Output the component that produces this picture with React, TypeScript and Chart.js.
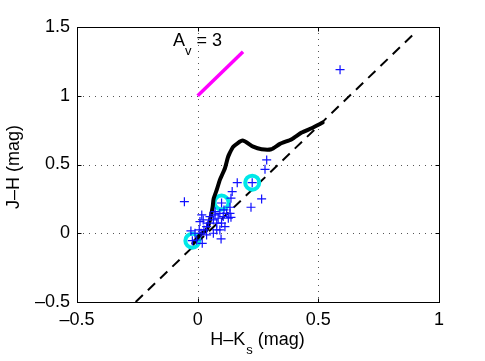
import React, { useEffect, useRef } from "react";
import { Chart, registerables } from "chart.js";

Chart.register(...registerables);

const xTicks = [-0.5, 0, 0.5, 1];
const yTicks = [-0.5, 0, 0.5, 1, 1.5];
const gridX = [0, 0.5];
const gridY = [0, 0.5, 1];

// reference (dashed) line
const dashX = [-0.257, 0.903];
const dashY = [-0.5, 1.462];

// reddening vector Av = 3
const avX = [0, 0.188];
const avY = [1.0, 1.32];

// intrinsic locus (thick black)
const curveX = [-0.018, 0.01, 0.037, 0.051, 0.062, 0.066, 0.079, 0.092, 0.113, 0.125, 0.132, 0.148, 0.186, 0.23, 0.265, 0.305, 0.341, 0.39, 0.431, 0.472, 0.518];
const curveY = [-0.073, -0.012, 0.024, 0.097, 0.19, 0.25, 0.315, 0.388, 0.473, 0.55, 0.58, 0.63, 0.674, 0.63, 0.611, 0.611, 0.65, 0.684, 0.732, 0.764, 0.805];

// cyan circles
const circX = [-0.022, 0.099, 0.226];
const circY = [-0.054, 0.223, 0.368];

// blue plus sources
const plusX = [-0.055, 0.59, 0.286, 0.279, 0.164, 0.226, 0.143, 0.138, 0.265, 0.221, 0.099, 0.134, 0.097, 0.019, -0.022, -0.028, 0.138,
  0.017, 0.0095, 0.023, 0.0066, 0.014, 0.026, 0.037, 0.044, 0.051, 0.065, 0.072, 0.079, 0.085, 0.092, 0.099, 0.106, 0.113, 0.12, 0.127, 0.092, 0.079, 0.065, 0.037, -0.011, -0.004, 0.072, 0.109, 0.134];
const plusY = [0.23, 1.19, 0.533, 0.465, 0.368, 0.368, 0.303, 0.255, 0.25, 0.189, 0.22, 0.189, -0.041, -0.073, -0.054, 0.017, 0.116,
  0.133, 0.085, 0.097, 0.024, 0.0, 0.024, 0.048, 0.073, 0.121, 0.097, 0.133, 0.073, 0.109, 0.145, 0.073, 0.121, 0.048, 0.145, 0.109, 0.024, 0.024, 0.0, -0.012, 0.0, -0.049, 0.157, 0.17, 0.145];

const toPts = (xs: number[], ys: number[]) => xs.map((x, i) => ({ x, y: ys[i] }));
const fmt = (v: number) => (v < 0 ? "\u2013" + String(-v) : String(v));
const FONT = "Liberation Sans, Arial, Helvetica, sans-serif";

const framePlugin = {
  id: "matlabFrame",
  beforeDatasetsDraw(chart: any) {
    const { ctx, chartArea: a, scales } = chart;
    const xs = scales.x, ys = scales.y;
    ctx.save();
    ctx.strokeStyle = "#555";
    ctx.lineWidth = 1;
    ctx.setLineDash([1, 5]);
    gridX.forEach((v) => {
      const px = Math.round(xs.getPixelForValue(v)) + 0.5;
      ctx.beginPath(); ctx.moveTo(px, a.top); ctx.lineTo(px, a.bottom); ctx.stroke();
    });
    gridY.forEach((v) => {
      const py = Math.round(ys.getPixelForValue(v)) + 0.5;
      ctx.beginPath(); ctx.moveTo(a.left, py); ctx.lineTo(a.right, py); ctx.stroke();
    });
    ctx.restore();
  },
  afterDatasetsDraw(chart: any) {
    const { ctx, chartArea: a, scales } = chart;
    const xs = scales.x, ys = scales.y;
    ctx.save();
    ctx.strokeStyle = "#000";
    ctx.lineWidth = 1;
    ctx.setLineDash([]);
    const L = Math.round(a.left) + 0.5, R = Math.round(a.right) + 0.5, T = Math.round(a.top) + 0.5, B = Math.round(a.bottom) + 0.5;
    ctx.strokeRect(L, T, R - L, B - T);
    const tl = 4;
    xTicks.forEach((v) => {
      const px = Math.round(xs.getPixelForValue(v)) + 0.5;
      ctx.beginPath(); ctx.moveTo(px, B); ctx.lineTo(px, B - tl); ctx.moveTo(px, T); ctx.lineTo(px, T + tl); ctx.stroke();
    });
    yTicks.forEach((v) => {
      const py = Math.round(ys.getPixelForValue(v)) + 0.5;
      ctx.beginPath(); ctx.moveTo(L, py); ctx.lineTo(L + tl, py); ctx.moveTo(R, py); ctx.lineTo(R - tl, py); ctx.stroke();
    });
    // tick labels
    ctx.fillStyle = "#000";
    ctx.font = `18px ${FONT}`;
    ctx.textAlign = "center";
    ctx.textBaseline = "alphabetic";
    xTicks.forEach((v) => {
      ctx.fillText(fmt(v), xs.getPixelForValue(v), 325);
    });
    ctx.textAlign = "right";
    ctx.textBaseline = "middle";
    yTicks.forEach((v) => {
      ctx.fillText(fmt(v), 70, ys.getPixelForValue(v));
    });
    // x title with subscript
    const big = `18px ${FONT}`, small = `13px ${FONT}`;
    const p1 = "H\u2013K", sub = "s", p2 = " (mag)";
    ctx.font = big; const w1 = ctx.measureText(p1).width; const w3 = ctx.measureText(p2).width;
    ctx.font = small; const w2 = ctx.measureText(sub).width;
    let x0 = 257 - (w1 + w2 + w3) / 2;
    ctx.textAlign = "left"; ctx.textBaseline = "alphabetic";
    ctx.font = big; ctx.fillText(p1, x0, 345);
    ctx.font = small; ctx.fillText(sub, x0 + w1 + 1, 354);
    ctx.font = big; ctx.fillText(p2, x0 + w1 + w2 + 1, 345);
    // y title rotated
    ctx.save();
    ctx.translate(14, 167);
    ctx.rotate(-Math.PI / 2);
    ctx.textAlign = "center"; ctx.textBaseline = "middle";
    ctx.font = big;
    ctx.fillText("J\u2013H (mag)", 0, 0);
    ctx.restore();
    // Av = 3 annotation
    ctx.textAlign = "left"; ctx.textBaseline = "alphabetic";
    ctx.font = big; ctx.fillText("A", 173, 46);
    const wa = ctx.measureText("A").width;
    ctx.font = small; ctx.fillText("v", 173 + wa, 55);
    const wv = ctx.measureText("v").width;
    ctx.font = big; ctx.fillText(" = 3", 173 + wa + wv, 46);
    ctx.restore();
  },
};

export default function App() {
  const ref = useRef<HTMLCanvasElement | null>(null);
  useEffect(() => {
    document.body.style.margin = "0";
    const chart = new Chart(ref.current as HTMLCanvasElement, {
      type: "scatter",
      data: {
        datasets: [
          {
            type: "line", data: toPts(dashX, dashY), borderColor: "#000", borderWidth: 2,
            borderDash: [10, 7], pointRadius: 0, fill: false, order: 5,
          } as any,
          {
            type: "line", data: toPts(avX, avY), borderColor: "#ff00ff", borderWidth: 3.5,
            pointRadius: 0, fill: false, order: 4,
          } as any,
          {
            data: toPts(circX, circY), pointStyle: "circle", pointRadius: 7, borderWidth: 4,
            borderColor: "#00e8e8", backgroundColor: "rgba(0,0,0,0)", order: 3,
          } as any,
          {
            type: "line", data: toPts(curveX, curveY), borderColor: "#000", borderWidth: 4,
            pointRadius: 0, fill: false, tension: 0.2, borderJoinStyle: "round", borderCapStyle: "round", order: 2,
          } as any,
          {
            data: toPts(plusX, plusY), pointStyle: "cross", pointRadius: 4.5, borderWidth: 1.2,
            borderColor: "#1010ff", backgroundColor: "#1010ff", order: 1,
          } as any,
        ],
      },
      options: {
        responsive: false,
        animation: false,
        layout: { padding: { left: 77, top: 27, right: 46, bottom: 59 } },
        plugins: { legend: { display: false }, tooltip: { enabled: false } },
        scales: {
          x: { type: "linear", min: -0.5, max: 1, display: false },
          y: { type: "linear", min: -0.5, max: 1.5, display: false },
        },
      },
      plugins: [framePlugin],
    });
    return () => chart.destroy();
  }, []);
  return (
    <div style={{ position: "absolute", left: 0, top: 0, width: 485, height: 361 }}>
      <canvas ref={ref} width={485} height={361} />
    </div>
  );
}
